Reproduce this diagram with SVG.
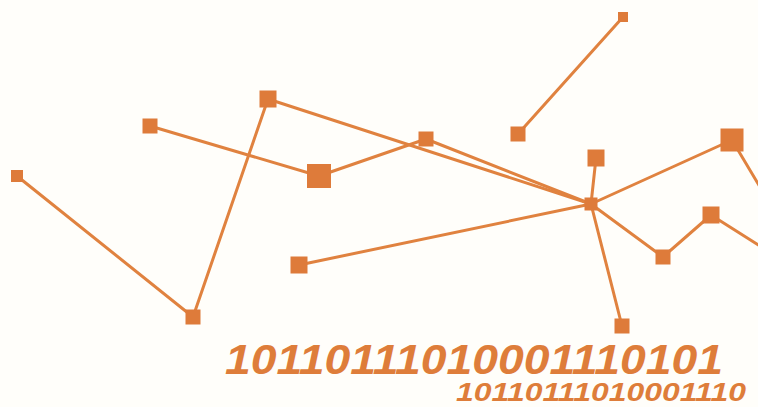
<svg xmlns="http://www.w3.org/2000/svg" width="758" height="407" viewBox="0 0 758 407">
<style>
.e{stroke:#E0823F;stroke-width:3;fill:none;stroke-linecap:round}
.n{fill:#DE7B3A}
.t{font-family:"Liberation Sans",Arial,sans-serif;font-weight:bold;font-style:italic;fill:#DE7D3A}
</style>
<rect width="758" height="407" fill="#FFFEFA"/>
<g id="connectors">
<line class="e" x1="17" y1="176" x2="193" y2="317"/>
<line class="e" x1="193" y1="317" x2="268" y2="99"/>
<line class="e" x1="268" y1="99" x2="591" y2="204"/>
<line class="e" x1="150" y1="126" x2="319" y2="176"/>
<line class="e" x1="319" y1="176" x2="426" y2="139"/>
<line class="e" x1="426" y1="139" x2="591" y2="204"/>
<line class="e" x1="299" y1="265" x2="591" y2="204"/>
<line class="e" x1="596" y1="158" x2="591" y2="204"/>
<line class="e" x1="591" y1="204" x2="732" y2="140"/>
<line class="e" x1="732" y1="140" x2="760" y2="187"/>
<line class="e" x1="591" y1="204" x2="663" y2="257"/>
<line class="e" x1="663" y1="257" x2="711" y2="215"/>
<line class="e" x1="711" y1="215" x2="760" y2="246"/>
<line class="e" x1="591" y1="204" x2="622" y2="326"/>
<line class="e" x1="518" y1="134" x2="623" y2="17"/>
</g>
<g id="nA"><rect class="n" x="11" y="170" width="12" height="12"/></g>
<g id="nB"><rect class="n" x="142.5" y="118.5" width="15" height="15"/></g>
<g id="nC"><rect class="n" x="259.5" y="90.5" width="17" height="17"/></g>
<g id="nD"><rect class="n" x="307" y="164" width="24" height="24"/></g>
<g id="nE"><rect class="n" x="185.5" y="309.5" width="15" height="15"/></g>
<g id="nF"><rect class="n" x="290.5" y="256.5" width="17" height="17"/></g>
<g id="nG"><rect class="n" x="618" y="12" width="10" height="10"/></g>
<g id="nH"><rect class="n" x="510.5" y="126.5" width="15" height="15"/></g>
<g id="nI"><rect class="n" x="418.5" y="131.5" width="15" height="15"/></g>
<g id="nJ"><rect class="n" x="587.5" y="149.5" width="17" height="17"/></g>
<g id="nK"><rect class="n" x="584.5" y="197.5" width="13" height="13"/></g>
<g id="nL"><rect class="n" x="720.5" y="128.5" width="23" height="23"/></g>
<g id="nM"><rect class="n" x="702.5" y="206.5" width="17" height="17"/></g>
<g id="nN"><rect class="n" x="655.5" y="249.5" width="15" height="15"/></g>
<g id="nO"><rect class="n" x="614.5" y="318.5" width="15" height="15"/></g>
<text class="t" x="225" y="374" font-size="43" textLength="498" lengthAdjust="spacingAndGlyphs">10110111010001110101</text>
<text class="t" x="456" y="401" font-size="26" textLength="290" lengthAdjust="spacingAndGlyphs">10110111010001110</text>
</svg>
